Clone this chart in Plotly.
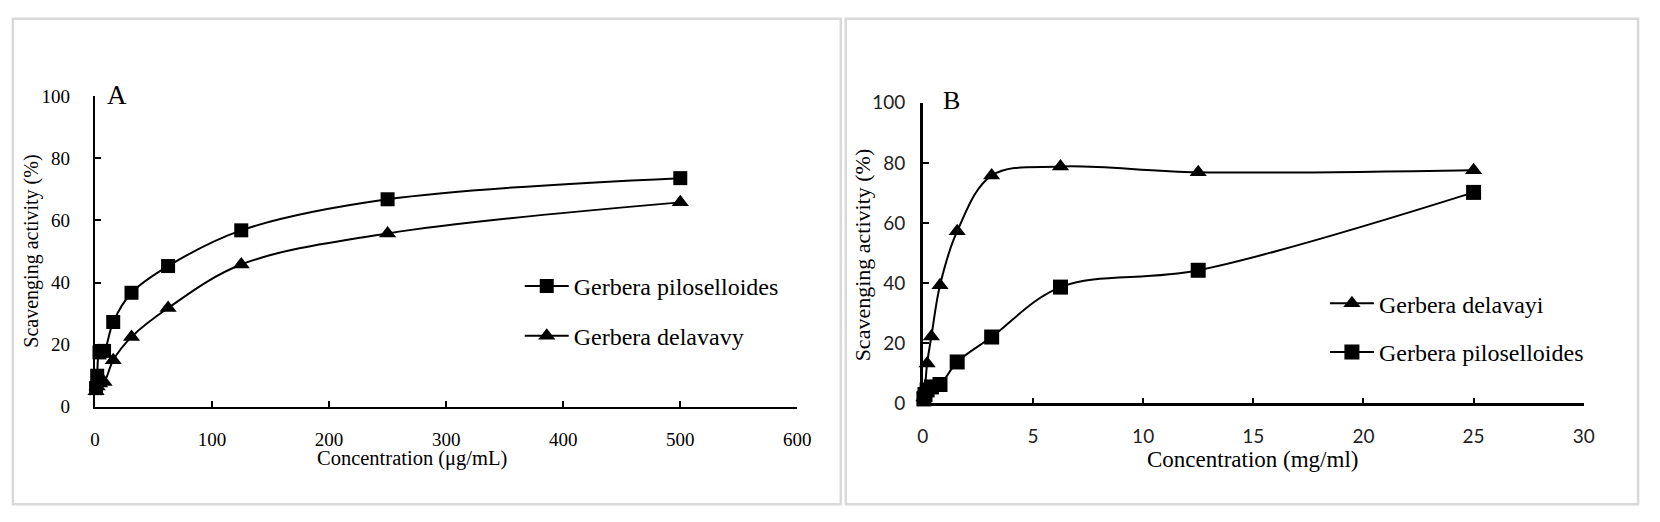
import plotly.graph_objects as go

W, H = 1660, 522

# Panel A: concentration in ug/mL
conc_a = [0.98, 1.95, 3.91, 7.81, 15.63, 31.25, 62.5, 125, 250, 500]
pilo_a = [6, 10, 17.5, 18, 27.3, 36.7, 45.3, 56.8, 66.8, 73.6]
dela_a = [5, 6.5, 7.5, 8, 15, 22.5, 31.8, 45.8, 55.8, 65.8]

# Panel B: concentration in mg/ml
conc_b = [0.049, 0.098, 0.195, 0.39, 0.78, 1.56, 3.125, 6.25, 12.5, 25]
dela_b = [2, 5, 13.3, 22.3, 39.3, 57.3, 75.8, 78.8, 76.9, 77.6]
pilo_b = [1.5, 3, 4.5, 5.5, 6.3, 13.8, 22.1, 38.7, 44.3, 70.2]

SERIF = "Liberation Serif"
SANS = "Lato"


def px(x):
    return x / W


def py(y):
    return 1 - y / H


fig = go.Figure()

line_style = dict(color="black", width=2, shape="spline", smoothing=1)

fig.add_trace(go.Scatter(
    x=conc_a, y=pilo_a, name="Gerbera piloselloides", mode="lines+markers",
    line=line_style, marker=dict(symbol="square", size=14, color="black"),
    xaxis="x", yaxis="y", legend="legend", cliponaxis=False,
))
fig.add_trace(go.Scatter(
    x=conc_a, y=dela_a, name="Gerbera delavavy", mode="lines+markers",
    line=line_style, marker=dict(symbol="triangle-up", size=15, color="black"),
    xaxis="x", yaxis="y", legend="legend2", cliponaxis=False,
))
fig.add_trace(go.Scatter(
    x=conc_b, y=dela_b, name="Gerbera delavayi", mode="lines+markers",
    line=line_style, marker=dict(symbol="triangle-up", size=15, color="black"),
    xaxis="x2", yaxis="y2", legend="legend3", cliponaxis=False,
))
fig.add_trace(go.Scatter(
    x=conc_b, y=pilo_b, name="Gerbera piloselloides", mode="lines+markers",
    line=line_style, marker=dict(symbol="square", size=15, color="black"),
    xaxis="x2", yaxis="y2", legend="legend4", cliponaxis=False,
))

axis_common = dict(
    showline=True, linecolor="black", linewidth=2,
    ticks="inside", ticklen=6, tickwidth=2, tickcolor="black",
    showgrid=False, zeroline=False,
)

font_a = dict(family=SERIF, size=19, color="black")
font_b = dict(family=SANS, size=19, color="#222222")

leg_common = dict(
    bgcolor="rgba(0,0,0,0)", borderwidth=0, itemwidth=44,
    xanchor="left", yanchor="middle", xref="paper", yref="paper",
)
leg_font = dict(family=SERIF, size=24, color="black")

fig.update_layout(
    width=W, height=H,
    showlegend=True,
    margin=dict(l=0, r=0, t=0, b=0),
    paper_bgcolor="white", plot_bgcolor="white",
    xaxis=dict(axis_common, domain=[px(90), px(801)], range=[0, 600], dtick=100,
               tickfont=font_a, anchor="y", ticklabelstandoff=14),
    yaxis=dict(axis_common, domain=[py(413), py(88)], range=[0, 100], dtick=20,
               tickfont=font_a, anchor="x", ticklabelstandoff=19),
    xaxis2=dict(axis_common, domain=[px(928), px(1597)], range=[0, 30], dtick=5,
                tickfont=font_b, anchor="y2", linewidth=2.5, ticklabelstandoff=14),
    yaxis2=dict(axis_common, domain=[py(409.5), py(95)], range=[0, 100], dtick=20,
                tickfont=font_b, anchor="x2", linewidth=2.5, ticklabelstandoff=11),
    legend=dict(leg_common, x=px(520), y=py(287), font=leg_font),
    legend2=dict(leg_common, x=px(520), y=py(339), font=leg_font),
    legend3=dict(leg_common, x=px(1335), y=py(305), font=leg_font),
    legend4=dict(leg_common, x=px(1335), y=py(356), font=leg_font),
    shapes=[
        dict(type="rect", xref="paper", yref="paper",
             x0=px(7), x1=px(845), y0=py(515), y1=py(7),
             line=dict(color="#d9d9d9", width=2.5)),
        dict(type="rect", xref="paper", yref="paper",
             x0=px(850), x1=px(1652), y0=py(515), y1=py(7),
             line=dict(color="#d9d9d9", width=2.5)),
    ],
    annotations=[
        dict(text="Scavenging activity (%)", x=px(26), y=py(250), textangle=-90,
             font=dict(family=SERIF, size=20, color="black")),
        dict(text="Concentration (μg/mL)", x=px(411), y=py(467),
             font=dict(family=SERIF, size=20.5, color="black")),
        dict(text="A", x=px(112), y=py(87),
             font=dict(family=SERIF, size=27, color="black")),
        dict(text="Scavenging activity (%)", x=px(867), y=py(254), textangle=-90,
             font=dict(family=SERIF, size=22, color="black")),
        dict(text="Concentration (mg/ml)", x=px(1262), y=py(468),
             font=dict(family=SERIF, size=23, color="black")),
        dict(text="B", x=px(957), y=py(93),
             font=dict(family=SERIF, size=26, color="black")),
    ],
)
for ann in fig.layout.annotations:
    ann.update(xref="paper", yref="paper", showarrow=False,
               xanchor="center", yanchor="middle")

fig.write_html("out.html", config={"displayModeBar": False},
               post_script="document.body.style.margin='0';")
